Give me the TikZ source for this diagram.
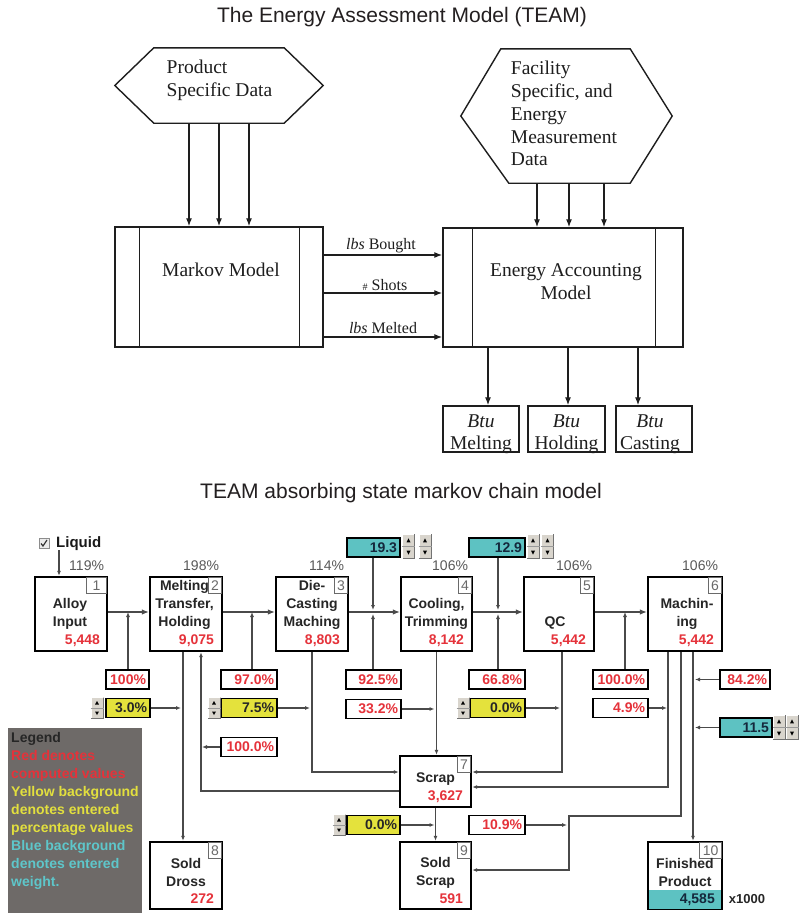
\documentclass[tikz,border=0pt]{standalone}
\usepackage{fontspec}
\setmainfont{Liberation Serif}
\newfontfamily\sansfam{Liberation Sans}
\usetikzlibrary{arrows.meta,calc}

\definecolor{inkTop}{HTML}{1E1E1E}
\definecolor{connGray}{HTML}{4A4A4A}
\definecolor{valRed}{HTML}{E5323A}
\definecolor{entYellow}{HTML}{E4E23C}
\definecolor{entBlue}{HTML}{5DC2C2}
\definecolor{blueInk}{HTML}{14283C}
\definecolor{legGray}{HTML}{6E6A68}
\definecolor{legYellow}{HTML}{E2DF3E}
\definecolor{legBlue}{HTML}{5EC6CA}
\definecolor{tabGray}{HTML}{6A6A6A}
\definecolor{spinFace}{HTML}{D9D5CD}
\definecolor{titleInk}{HTML}{231F20}

\begin{document}
\begin{tikzpicture}[x=1pt,y=-1pt,
  serifbig/.style={font=\fontsize{19.5}{23}\selectfont, text=inkTop, inner sep=0pt},
  seriflbl/.style={font=\fontsize{16}{18}\selectfont, text=inkTop, inner sep=0pt},
  topline/.style={draw=inkTop, line width=1.4pt},
  toparrow/.style={draw=inkTop, line width=1.3pt, -{Latex[length=8pt,width=6pt]}},
  topbox/.style={draw=inkTop, line width=1.4pt, inner sep=0pt},
  headline/.style={font=\sansfam\fontsize{21}{24}\selectfont, text=titleInk, inner sep=0pt},
  state/.style={draw=black, line width=2.4pt, fill=white, inner sep=0pt},
  sname/.style={font=\sansfam\bfseries\fontsize{14}{18}\selectfont, align=center, inner sep=0pt, text=black!85},
  sval/.style={font=\sansfam\bfseries\fontsize{14}{18}\selectfont, text=valRed, inner sep=0pt, anchor=east},
  tab/.style={draw=tabGray, line width=0.8pt, fill=white, font=\sansfam\fontsize{14}{14}\selectfont, text=tabGray, inner sep=0pt, minimum height=16pt, anchor=north east},
  pctabove/.style={font=\sansfam\fontsize{14}{14}\selectfont, text=black!65, inner sep=0pt, anchor=base east},
  valbox/.style={draw=black, line width=1.8pt, font=\sansfam\bfseries\fontsize{14}{16}\selectfont, align=right, inner xsep=3pt, inner ysep=0pt, minimum height=19pt},
  redbox/.style={valbox, fill=white, text=valRed},
  yelbox/.style={valbox, fill=entYellow, text=black!85},
  bluebox/.style={valbox, fill=entBlue, text=blueInk},
  conn/.style={draw=connGray, line width=1.1pt, -{Latex[length=5pt,width=4pt]}},
  mainarrow/.style={draw=connGray, line width=1.1pt, -{Latex[length=7pt,width=5.5pt]}},
  plainconn/.style={draw=connGray, line width=1.1pt},
  spin/.pic={
    \fill[spinFace] (-6.5,-11) rectangle (6.5,11);
    \draw[white, line width=0.8pt] (-6,10.5) -- (-6,-10.5) -- (6,-10.5);
    \draw[black!55, line width=0.8pt] (-6,10.5) -- (6,10.5) -- (6,-10.5);
    \draw[black!40, line width=0.6pt] (-6.5,0) -- (6.5,0);
    \fill[black] (-2,-3.5) -- (2,-3.5) -- (0,-7) -- cycle;
    \fill[black] (-2,3.5) -- (2,3.5) -- (0,7) -- cycle;
  }
]
\useasboundingbox (0,0) rectangle (799,914);
\fill[white] (0,0) rectangle (799,914);

% ================= upper diagram: TEAM overview =================
\node[headline] (title1) at (402,17.3) {The Energy Assessment Model (TEAM)};

% data sources (hexagons)
\node[minimum width=208pt, minimum height=75pt, inner sep=0pt] (hexL) at (219,85.5) {};
\draw[topline] (hexL.west) -- ([xshift=39pt]hexL.north west) -- ([xshift=-39pt]hexL.north east)
  -- (hexL.east) -- ([xshift=-39pt]hexL.south east) -- ([xshift=39pt]hexL.south west) -- cycle;
\node[serifbig, align=left] (hexLtxt) at (219.5,80) {Product\\Specific Data};

\node[minimum width=211pt, minimum height=134pt, inner sep=0pt] (hexR) at (566.5,116) {};
\draw[topline] (hexR.west) -- ([xshift=40pt]hexR.north west) -- ([xshift=-42pt]hexR.north east)
  -- (hexR.east) -- ([xshift=-42pt]hexR.south east) -- ([xshift=48pt]hexR.south west) -- cycle;
\node[serifbig, align=left, font=\fontsize{19.5}{22.75}\selectfont] (hexRtxt) at (564,113.6)
  {Facility\\Specific, and\\Energy\\Measurement\\Data};

% model boxes
\node[topbox, minimum width=208pt, minimum height=120pt] (markov) at (219,287) {};
\draw[topline] ([xshift=25pt]markov.north west) -- ([xshift=25pt]markov.south west);
\draw[topline] ([xshift=-24pt]markov.north east) -- ([xshift=-24pt]markov.south east);
\node[serifbig] (markovtxt) at (221,270) {Markov Model};

\node[topbox, minimum width=240pt, minimum height=119pt] (energy) at (563,287.5) {};
\draw[topline] ([xshift=30pt]energy.north west) -- ([xshift=30pt]energy.south west);
\draw[topline] ([xshift=-28pt]energy.north east) -- ([xshift=-28pt]energy.south east);
\node[serifbig, align=center] (energytxt) at (566,281.5) {Energy Accounting\\Model};

% outputs
\node[topbox, minimum width=76pt, minimum height=46pt] (btuA) at (481,429) {};
\node[topbox, minimum width=77pt, minimum height=46pt] (btuB) at (566.5,429) {};
\node[topbox, minimum width=76pt, minimum height=46pt] (btuC) at (654,429) {};
\node[serifbig, align=center, font=\fontsize{19.5}{22}\selectfont] (btuAtxt) at ([yshift=-5pt]btuA.center) {\textit{Btu}\\Melting};
\node[serifbig, align=center, font=\fontsize{19.5}{22}\selectfont] (btuBtxt) at ([yshift=-5pt]btuB.center) {\textit{Btu}\\Holding};
\node[serifbig, align=center, font=\fontsize{19.5}{22}\selectfont] (btuCtxt) at ([xshift=-4pt,yshift=-5pt]btuC.center) {\textit{Btu}\\Casting};

% data feeds
\coordinate (hl1) at ($(hexL.south)+(-30,0)$);
\coordinate (hl2) at (hexL.south);
\coordinate (hl3) at ($(hexL.south)+(30,0)$);
\foreach \c in {hl1,hl2,hl3} \draw[toparrow] (\c) -- (\c |- markov.north);

\coordinate (hr1) at ($(hexR.south)+(-29.5,0)$);
\coordinate (hr2) at ($(hexR.south)+(2.5,0)$);
\coordinate (hr3) at ($(hexR.south)+(37.5,0)$);
\foreach \c in {hr1,hr2,hr3} \draw[toparrow] (\c) -- (\c |- energy.north);

% flows between models
\coordinate (mf1) at ([yshift=32pt]markov.east);
\coordinate (mf2) at ([yshift=-6pt]markov.east);
\coordinate (mf3) at ([yshift=-50pt]markov.east);
\foreach \c in {mf1,mf2,mf3} \draw[toparrow] (\c) -- (\c -| energy.west);
\node[seriflbl] (lblA) at (381,246) {\textit{lbs} Bought};
\node[seriflbl] (lblB) at (385,285) {{\fontsize{10}{12}\selectfont\#}\ Shots};
\node[seriflbl] (lblC) at (383,328) {\textit{lbs} Melted};

% energy outputs
\coordinate (eo1) at ($(btuA.north)+(7,0)$);
\coordinate (eo2) at ($(btuB.north)+(1.5,0)$);
\coordinate (eo3) at ($(btuC.north)+(-16,0)$);
\foreach \c in {eo1,eo2,eo3} \draw[toparrow] (\c |- energy.south) -- (\c);

% ================= lower diagram: absorbing Markov chain =================
\node[headline] (title2) at (401,493.5) {TEAM absorbing state markov chain model};

% liquid input switch
\node[draw=black!45, fill=black!8, line width=0.8pt, minimum size=10pt, inner sep=0pt] (chk) at (44,543.5) {};
\draw[black!80, line width=1.2pt] ([xshift=-3pt]chk.center) -- ++(2,2.5) -- ++(4,-6);
\node[font=\sansfam\bfseries\fontsize{15}{16}\selectfont, anchor=west, inner sep=0pt, text=black!90] (liq) at (56,544) {Liquid};
\coordinate (lq) at (59,550);

% process states
\node[state, minimum width=72pt, minimum height=74pt] (s1) at (71,614) {};
\node[state, minimum width=72pt, minimum height=74pt] (s2) at (186,614) {};
\node[state, minimum width=72pt, minimum height=74pt] (s3) at (312,614) {};
\node[state, minimum width=71pt, minimum height=74pt] (s4) at (436.5,614) {};
\node[state, minimum width=70pt, minimum height=74pt] (s5) at (559,614) {};
\node[state, minimum width=74pt, minimum height=74pt] (s6) at (685,614) {};
\node[state, minimum width=71pt, minimum height=51pt] (s7) at (435.5,781.5) {};
\node[state, minimum width=72pt, minimum height=67pt] (s8) at (186,875.5) {};
\node[state, minimum width=71pt, minimum height=67pt] (s9) at (435.5,875.5) {};
\node[state, minimum width=74pt, minimum height=67pt] (s10) at (685,875.5) {};

% finished-product weight strip
\node[fill=entBlue, anchor=south, minimum height=19pt, inner ysep=0pt, inner xsep=6pt, text width=59.6pt, align=right,
  font=\sansfam\bfseries\fontsize{14}{16}\selectfont, text=blueInk] (fpval) at ([yshift=1.2pt]s10.south) {4,585};
\node[font=\sansfam\bfseries\fontsize{13}{14}\selectfont, text=black!85, inner sep=0pt] (scale) at (747,899) {x1000};

% state number tabs
\node[tab, minimum width=20pt] (t1) at ([xshift=-1.2pt,yshift=-1.2pt]s1.north east) {1};
\node[tab, minimum width=13pt] (t2) at ([xshift=-1.2pt,yshift=-1.2pt]s2.north east) {2};
\node[tab, minimum width=13pt] (t3) at ([xshift=-1.2pt,yshift=-1.2pt]s3.north east) {3};
\node[tab, minimum width=13pt] (t4) at ([xshift=-1.2pt,yshift=-1.2pt]s4.north east) {4};
\node[tab, minimum width=13pt] (t5) at ([xshift=-1.2pt,yshift=-1.2pt]s5.north east) {5};
\node[tab, minimum width=13pt] (t6) at ([xshift=-1.2pt,yshift=-1.2pt]s6.north east) {6};
\node[tab, minimum width=13pt] (t7) at ([xshift=-1.2pt,yshift=-1.2pt]s7.north east) {7};
\node[tab, minimum width=13pt] (t8) at ([xshift=-1.2pt,yshift=-1.2pt]s8.north east) {8};
\node[tab, minimum width=13pt] (t9) at ([xshift=-1.2pt,yshift=-1.2pt]s9.north east) {9};
\node[tab, minimum width=22pt] (t10) at ([xshift=-1.2pt,yshift=-1.2pt]s10.north east) {10};

% state names
\node[sname] (n1) at ([xshift=-1pt]s1.center) {Alloy\\Input};
\node[sname] (n2) at ([xshift=-1.5pt,yshift=9pt]s2.center) {Melting\\Transfer,\\Holding};
\node[sname] (n3) at ([yshift=9pt]s3.center) {Die-\\Casting\\Maching};
\node[sname] (n4) at (s4.center) {Cooling,\\Trimming};
\node[sname] (n5) at ([xshift=-4pt,yshift=-9pt]s5.center) {QC};
\node[sname] (n6) at ([xshift=2pt]s6.center) {Machin-\\ing};
\node[sname] (n7) at ([yshift=2.5pt]s7.center) {Scrap};
\node[sname] (n8) at ([yshift=3pt]s8.center) {Sold\\Dross};
\node[sname] (n9) at ([yshift=3pt]s9.center) {Sold\\Scrap};
\node[sname] (n10) at ([yshift=3pt]s10.center) {Finished\\Product};

% computed state weights
\node[sval] (w1) at ([xshift=-8pt,yshift=-27pt]s1.east) {5,448};
\node[sval] (w2) at ([xshift=-9pt,yshift=-27pt]s2.east) {9,075};
\node[sval] (w3) at ([xshift=-9pt,yshift=-27pt]s3.east) {8,803};
\node[sval] (w4) at ([xshift=-9pt,yshift=-27pt]s4.east) {8,142};
\node[sval] (w5) at ([xshift=-9pt,yshift=-27pt]s5.east) {5,442};
\node[sval] (w6) at ([xshift=-9pt,yshift=-27pt]s6.east) {5,442};
\node[sval] (w7) at ([xshift=-9pt,yshift=-15.5pt]s7.east) {3,627};
\node[sval] (w8) at ([xshift=-9pt,yshift=-23.5pt]s8.east) {272};
\node[sval] (w9) at ([xshift=-9pt,yshift=-23.5pt]s9.east) {591};

% load percentages above states
\node[pctabove] (a1) at ([xshift=-4pt,yshift=5pt]s1.north east) {119\%};
\node[pctabove] (a2) at ([xshift=-4pt,yshift=5pt]s2.north east) {198\%};
\node[pctabove] (a3) at ([xshift=-5pt,yshift=5pt]s3.north east) {114\%};
\node[pctabove] (a4) at ([xshift=-5pt,yshift=5pt]s4.north east) {106\%};
\node[pctabove] (a5) at ([xshift=-3pt,yshift=5pt]s5.north east) {106\%};
\node[pctabove] (a6) at ([xshift=-5pt,yshift=5pt]s6.north east) {106\%};

% value boxes
\node[redbox, text width=37pt] (p100a) at (127.5,679.5) {100\%};
\node[redbox, text width=50pt] (p970) at (249,679.5) {97.0\%};
\node[redbox, text width=49pt] (p925) at (373.5,679.5) {92.5\%};
\node[redbox, text width=50pt] (p668) at (497,679.5) {66.8\%};
\node[redbox, text width=49pt] (p1000a) at (620.5,679.5) {100.0\%};
\node[redbox, text width=44pt] (p842) at (745,679.5) {84.2\%};
\node[redbox, text width=49pt] (p332) at (373.5,709) {33.2\%};
\node[redbox, text width=49pt] (p49) at (620.5,708) {4.9\%};
\node[redbox, text width=50pt] (p1000b) at (249,747) {100.0\%};
\node[redbox, text width=50pt] (p109) at (497,825) {10.9\%};

\node[yelbox, text width=38pt] (y30) at (128,708) {3.0\%};
\node[yelbox, text width=50pt] (y75) at (249,708) {7.5\%};
\node[yelbox, text width=49pt] (y00a) at (497.5,708) {0.0\%};
\node[yelbox, text width=47pt] (y00b) at (373.5,825) {0.0\%};

\node[bluebox, text width=47pt] (b193) at (373.5,547.5) {19.3};
\node[bluebox, text width=50pt] (b129) at (497,547.5) {12.9};
\node[bluebox, text width=46pt] (b115) at (746,727.5) {11.5};

% spin controls
\pic (sp30) at (97,708) {spin};
\pic (sp75) at (214,708) {spin};
\pic (sp00a) at (463,708) {spin};
\pic (sp00b) at (339,825) {spin};
\pic[yscale=1.15] (sp193a) at (408.5,546.5) {spin};
\pic[yscale=1.15] (sp193b) at (425,546.5) {spin};
\pic[yscale=1.15] (sp129a) at (533,546.5) {spin};
\pic[yscale=1.15] (sp129b) at (547.5,546.5) {spin};
\pic[yscale=1.15] (sp115a) at (779,727.5) {spin};
\pic[yscale=1.15] (sp115b) at (792,727.5) {spin};

% main transitions
\draw[conn] (lq) -- (lq |- s1.north);
\foreach \a/\b in {s1/s2,s2/s3,s3/s4,s4/s5,s5/s6}
  \draw[mainarrow] ([yshift=2pt]\a.east) -- ([yshift=2pt]\b.west);

% junctions on the main line
\coordinate (j1) at (128,612);
\coordinate (j2) at (252,612);
\coordinate (j3) at (373,612);
\coordinate (j4) at (498,612);
\coordinate (j5) at (625,612);
\draw[conn] (p100a.north -| j1) -- (j1);
\draw[conn] (p970.north -| j2) -- (j2);
\draw[conn] (p925.north -| j3) -- ([yshift=-2pt]j3);
\draw[conn] (b193.south -| j3) -- ([yshift=2pt]j3);
\draw[conn] (p668.north -| j4) -- ([yshift=-2pt]j4);
\draw[conn] (b129.south -| j4) -- ([yshift=2pt]j4);
\draw[conn] (p1000a.north -| j5) -- (j5);

% drop lines out of the states
\coordinate (v2a) at ([xshift=-3pt]s2.south);
\coordinate (v2b) at ([xshift=15pt]s2.south);
\coordinate (v3) at (s3.south);
\coordinate (v4) at (s4.south);
\coordinate (v5) at ([xshift=3pt]s5.south);
\coordinate (v6a) at ([xshift=-17pt]s6.south);
\coordinate (v6b) at ([xshift=-4pt]s6.south);
\coordinate (v6c) at ([xshift=8pt]s6.south);
\coordinate (k9) at (569,816);

\draw[conn] (v2a) -- (v2a |- s8.north);
\draw[conn] ([yshift=-9.5pt]s7.west) -| (v2b);
\draw[conn] (v3) |- ([yshift=9.5pt]s7.west);
\draw[conn] (v4) -- (v4 |- s7.north);
\draw[conn] (v5) |- ([yshift=9.5pt]s7.east);
\draw[conn] (v6a) |- ([yshift=-5.5pt]s7.east);
\draw[conn] (v6b) |- (k9) |- ([yshift=5.5pt]s9.east);
\draw[conn] (v6c) -- (v6c |- s10.north);
\draw[conn] (s7.south) -- (s9.north);

% side inputs onto the drop lines
\draw[conn, shorten >=2pt] (y30.east) -- (y30.east -| v2a);
\draw[conn, shorten >=2pt] (y75.east) -- (y75.east -| v3);
\draw[conn, shorten >=2pt] (p332.east) -- (p332.east -| v4);
\draw[conn, shorten >=2pt] (y00a.east) -- (y00a.east -| v5);
\draw[conn, shorten >=1pt] (p49.east) -- (p49.east -| v6a);
\draw[conn, shorten >=2pt] (p842.west) -- (p842.west -| v6c);
\draw[conn, shorten >=2pt] (b115.west) -- (b115.west -| v6c);
\draw[conn, shorten >=1pt] (p1000b.west) -- (p1000b.west -| v2b);
\draw[conn, shorten >=2pt] (y00b.east) -- (y00b.east -| v4);
\draw[conn, shorten >=2pt] (p109.east) -- (p109.east -| k9);

% legend
\node[fill=legGray, minimum width=134pt, minimum height=185pt, anchor=north west, inner sep=0pt] (legend) at (8,728) {};
\node[anchor=north west, align=left, inner sep=0pt, font=\sansfam\bfseries\fontsize{14}{18}\selectfont] (legendtxt) at (11,732)
  {\textcolor{black!85}{Legend}\\
   \textcolor{valRed}{Red denotes}\\
   \textcolor{valRed}{computed values}\\
   \textcolor{legYellow}{Yellow background}\\
   \textcolor{legYellow}{denotes entered}\\
   \textcolor{legYellow}{percentage values}\\
   \textcolor{legBlue}{Blue background}\\
   \textcolor{legBlue}{denotes entered}\\
   \textcolor{legBlue}{weight.}};
\end{tikzpicture}
\end{document}
